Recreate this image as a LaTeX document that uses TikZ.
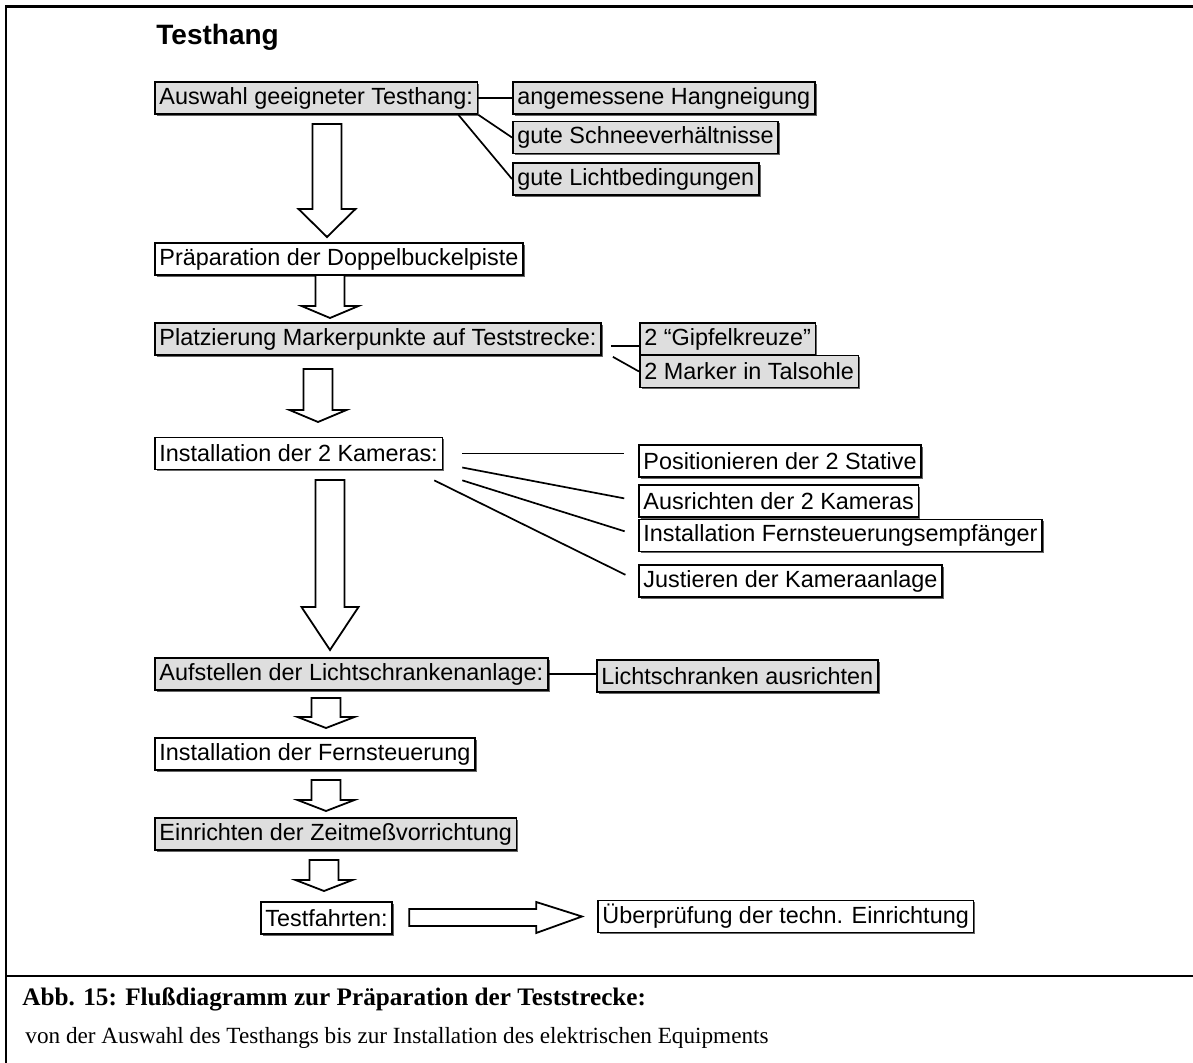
\documentclass[tikz,border=0pt]{standalone}
\usepackage{fontspec}
\setmainfont{Liberation Serif}
\setsansfont{Liberation Sans}
\usetikzlibrary{positioning, calc, shadows}

% hollow block arrow pointing down: centre x, top, head base, tip
\newcommand\hollowdown[4]{%
  \draw[blockarrow] (#1-14.5,#2) -- (#1+14.5,#2) -- (#1+14.5,#3) -- (#1+28.5,#3)
    -- (#1,#4) -- (#1-28.5,#3) -- (#1-14.5,#3) -- cycle;}

\begin{document}
\begin{tikzpicture}[
  x=0.5pt, y=-0.5pt,
  every node/.style={font=\sffamily\fontsize{11.7}{13}\selectfont},
  stepbox/.style={draw, line width=0.85pt, fill=white, anchor=west,
                  minimum height=16pt, inner xsep=2.3pt, inner ysep=0pt,
                  drop shadow={shadow xshift=0.9pt, shadow yshift=-0.9pt,
                               fill=black!60, opacity=1}},
  greybox/.style={stepbox, fill=black!13},
  link/.style={line width=0.85pt},
  blockarrow/.style={line width=0.9pt, fill=white, line join=miter},
]
\useasboundingbox (0,0) rectangle (1193,1063);

% frame and caption rule
\draw[line width=1.5pt] (5,7) -- (1193,7);
\draw[line width=1.2pt] (6,6.3) -- (6,1063);
\draw[line width=1.1pt] (6,976) -- (1193,976);

\node[font=\sffamily\bfseries\fontsize{14}{16}\selectfont, anchor=base west, inner sep=0] (title) at (156,45) {Testhang};

% main column
\node[greybox] (auswahl) at (154,98) {Auswahl geeigneter Testhang:};
\node[stepbox] (piste) at (154,259) {Präparation der Doppelbuckelpiste};
\node[greybox] (marker) at (154,339) {Platzierung Markerpunkte auf Teststrecke:};
\node[stepbox] (kameras) at (154,453.5) {Installation der 2 Kameras:};
\node[greybox] (schranke) at (154,674) {Aufstellen der Lichtschrankenanlage:};
\node[stepbox] (fernst) at (154,754) {Installation der Fernsteuerung};
\node[greybox] (zeit) at (154,834) {Einrichten der Zeitmeßvorrichtung};
\node[stepbox] (fahrten) at (260,918) {Testfahrten:};

% side boxes
\node[greybox] (neigung) at (512,98) {angemessene Hangneigung};
\node[greybox] (schnee) at (512,137.5) {gute Schneeverhältnisse};
\node[greybox] (licht) at (512,179) {gute Lichtbedingungen};
\node[greybox] (gipfel) at (639,339) {2 “Gipfelkreuze”};
\node[greybox] (talsohle) at (639,371.5) {2 Marker in Talsohle};
\node[stepbox] (stative) at (638,461) {Positionieren der 2 Stative};
\node[stepbox] (ausrichten) at (638,501) {Ausrichten der 2 Kameras};
\node[stepbox] (empfaenger) at (638,535.5) {Installation Fernsteuerungsempfänger};
\node[stepbox] (justieren) at (638,581) {Justieren der Kameraanlage};
\node[greybox] (schrankeaus) at (596,676) {Lichtschranken ausrichten};
\node[stepbox] (pruefung) at (597,916.5) {Überprüfung der techn. Einrichtung};

% plain links
\draw[link] (auswahl.east) -- (neigung.west);
\draw[link] (auswahl.south east) -- (schnee.west);
\draw[link] ($(auswahl.south east)+(-20,0)$) -- (licht.west);
\draw[link] ($(marker.east)+(9,7)$) -- ($(gipfel.west)+(0,7)$);
\draw[link] ($(marker.south east)+(11,1)$) -- (talsohle.west);
\draw[link, shorten >=7pt] ($(kameras.east)+(19,0)$) -- (kameras.east -| stative.west);
\draw[link, shorten >=7pt] ($(kameras.east)+(19,14)$) -- (ausrichten.west);
\draw[link, shorten >=7pt] ($(kameras.south east)+(19,10)$) -- (empfaenger.west);
\draw[link, shorten >=7pt] ($(kameras.south east)+(-9,10)$) -- (justieren.west);
\draw[link] (schranke.east) -- (schranke.east -| schrankeaus.west);

% block arrows
\hollowdown{327}{124}{209}{237}
\hollowdown{330}{275}{306}{318}
\hollowdown{318}{369}{410}{422}
\hollowdown{330}{480}{607}{650}
\hollowdown{326}{698}{717}{728}
\hollowdown{326}{780}{800}{811}
\hollowdown{324}{860}{880}{891}
\draw[blockarrow] ($(fahrten.east)+(16,-9)$) -- ++(127,0) -- ++(0,-7) -- ($(pruefung.west)+(-15,0)$)
  -- ($(fahrten.east)+(143,15)$) -- ++(0,-7) -- ++(-127,0) -- cycle;

% caption
\node[anchor=base west, inner sep=0, font=\rmfamily\bfseries\fontsize{12.6}{15}\selectfont] (caption) at (22,1005) {Abb. 15: Flußdiagramm zur Präparation der Teststrecke:};
\node[anchor=base west, inner sep=0, font=\rmfamily\fontsize{11.6}{14}\selectfont] (subcaption) at (25,1043) {von der Auswahl des Testhangs bis zur Installation des elektrischen Equipments};
\end{tikzpicture}
\end{document}
